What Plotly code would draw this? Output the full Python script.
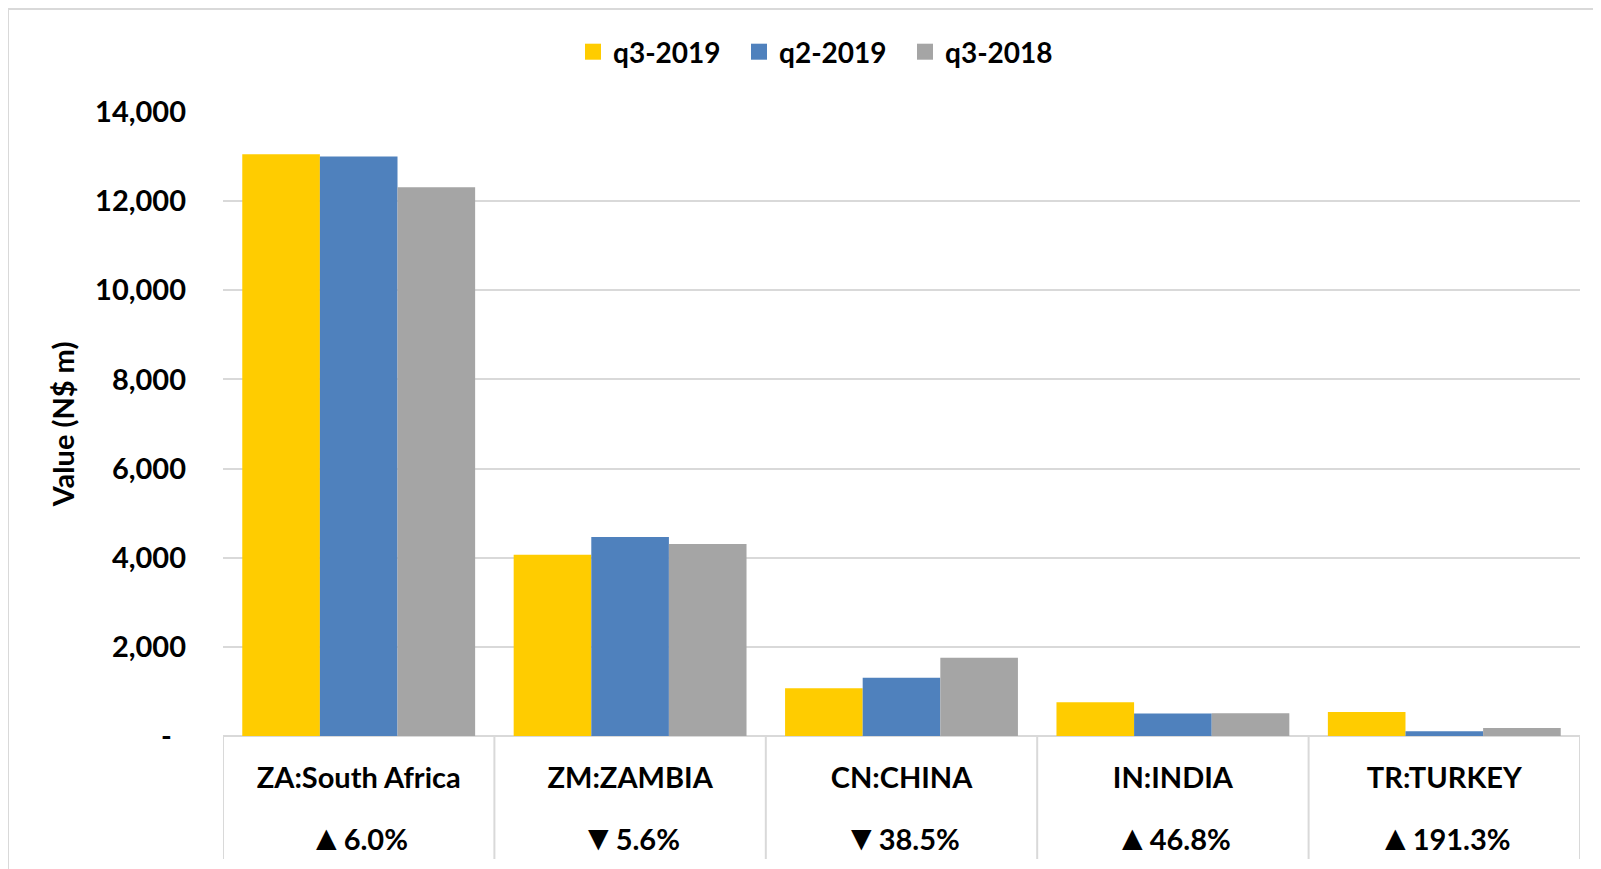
import plotly.graph_objects as go

categories = ["ZA:South Africa", "ZM:ZAMBIA", "CN:CHINA", "IN:INDIA", "TR:TURKEY"]
q3_2019 = [13050, 4065, 1070, 756, 540]
q2_2019 = [13000, 4467, 1305, 503, 108]
q3_2018 = [12310, 4310, 1755, 510, 178]
change_arrows = ["▲", "▼", "▼", "▲", "▲"]
change_values = ["6.0%", "5.6%", "38.5%", "46.8%", "191.3%"]
series_names = ["q3-2019", "q2-2019", "q3-2018"]
series_colors = ["#FFCC00", "#4F81BD", "#A5A5A5"]
y_ticks = [0, 2000, 4000, 6000, 8000, 10000, 12000, 14000]
y_ticktext = ["-\u00a0\u00a0"] + [f"{v:,}" for v in y_ticks[1:]]

FONT = "Lato, 'Open Sans', Roboto, sans-serif"
W, H = 1601, 869
OFF = 8  # page body margin offset
L, R, T, B = 223 - OFF, 21 + OFF, 112 - OFF, 133 + OFF
plot_w = W - L - R
plot_h = H - T - B

def px_x(px):
    return (px - OFF - L) / plot_w

def px_y(py):
    return (H - B - (py - OFF)) / plot_h

fig = go.Figure()
for name, vals, col in zip(series_names, [q3_2019, q2_2019, q3_2018], series_colors):
    fig.add_trace(go.Bar(name=name, x=categories, y=vals, showlegend=False,
                         legendgroup=name, marker=dict(color=col, line=dict(width=0))))
# legend entries with larger square swatches
for name, col in zip(series_names, series_colors):
    fig.add_trace(go.Scatter(name=name, x=[None], y=[None], mode="markers", legendgroup=name,
                             marker=dict(symbol="square", size=16, color=col)))

shapes = []
n = len(categories)
for i in range(n + 1):
    shapes.append(dict(type="line", xref="x", yref="paper", x0=i - 0.5, x1=i - 0.5,
                       y0=0, y1=px_y(859), line=dict(color="#D9D9D9", width=2)))
# outer chart border
shapes.append(dict(type="rect", xref="paper", yref="paper", x0=px_x(8), x1=px_x(1620),
                   y0=px_y(890), y1=px_y(9), line=dict(color="#D9D9D9", width=2), layer="below"))

annotations = []
for c, a, v in zip(categories, change_arrows, change_values):
    annotations.append(dict(x=c, xref="x", y=px_y(836), yref="paper",
                            text=f'<span style="font-size:35px">{a}</span>{v}', showarrow=False,
                            font=dict(family=FONT, size=29, color="black", weight="bold"),
                            xanchor="center", yanchor="middle"))

fig.update_layout(
    width=W, height=H,
    margin=dict(l=L, r=R, t=T, b=B, autoexpand=False),
    paper_bgcolor="white", plot_bgcolor="white",
    barmode="group", bargap=0.142, bargroupgap=0,
    font=dict(family=FONT, size=29, color="black", weight="bold"),
    legend=dict(orientation="h", x=px_x(573), xanchor="left", y=px_y(52), yanchor="middle",
                font=dict(family=FONT, size=28, color="black", weight="bold"),
                entrywidth=121, entrywidthmode="pixels", bgcolor="rgba(0,0,0,0)"),
    xaxis=dict(range=[-0.5, n - 0.5], showgrid=False, showline=False, zeroline=False,
               ticks="", ticklabelstandoff=22, tickfont=dict(family=FONT, size=29, weight="bold")),
    yaxis=dict(range=[0, 14000], tickvals=y_ticks, ticktext=y_ticktext, showgrid=True,
               gridcolor="#D9D9D9", gridwidth=1.5, zeroline=True, zerolinecolor="#D9D9D9",
               zerolinewidth=2, showline=False, ticks="", ticklabelstandoff=36,
               tickfont=dict(family=FONT, size=29, weight="bold"),
               title=dict(text="Value (N$ m)", standoff=11,
                          font=dict(family=FONT, size=29, weight="bold"))),
    shapes=shapes, annotations=annotations,
)

fig.write_html("out.html")
